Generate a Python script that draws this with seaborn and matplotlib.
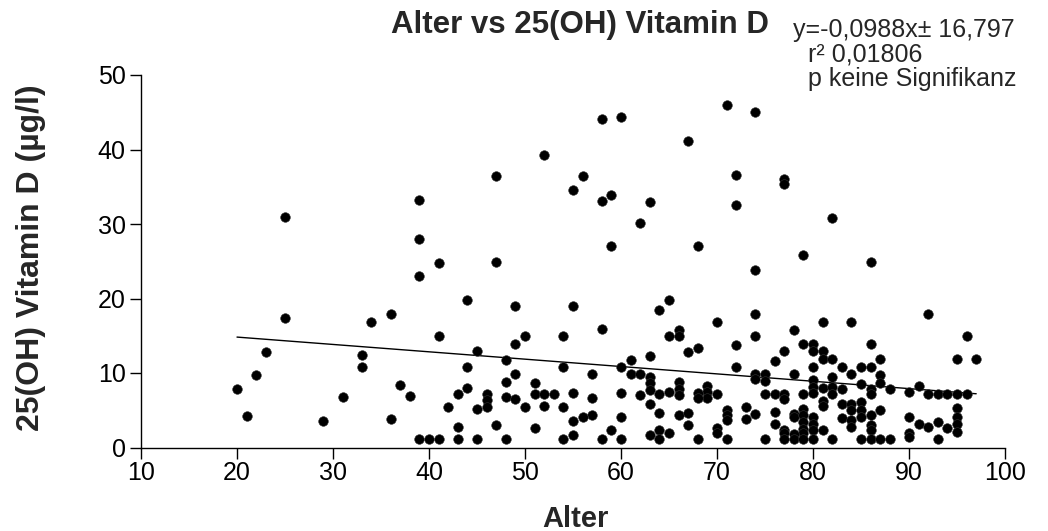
import matplotlib
matplotlib.use("Agg")
import matplotlib.pyplot as plt
import seaborn as sns
import pandas as pd
import numpy as np

# ---- data ----
age_upper = [25, 39, 39, 41, 39, 58, 60, 52, 47, 56, 55, 58, 59, 59, 47,
             71, 74, 67, 72, 63, 72, 62, 68, 74, 77, 77, 82, 79, 86]
vitd_upper = [31.0, 33.2, 28.0, 24.8, 23.0, 44.1, 44.4, 39.3, 36.4, 36.5, 34.6, 33.1, 33.9, 27.0, 24.9,
              46.0, 45.1, 41.2, 36.6, 32.9, 32.5, 30.1, 27.0, 23.8, 36.1, 35.4, 30.8, 25.9, 24.9]

age_young = [25, 23, 22, 20, 21, 29, 31, 33, 33,
             44, 36, 34, 41, 45, 44, 37, 38, 44, 43, 46, 46, 46, 42, 45, 36, 43,
             39, 40, 41, 43, 45, 47]
vitd_young = [17.4, 12.8, 9.7, 7.8, 4.2, 3.6, 6.8, 12.4, 10.8,
              19.8, 17.9, 16.9, 14.9, 12.9, 10.8, 8.4, 6.9, 8.0, 7.2, 7.2, 6.4, 5.5, 5.4, 5.2, 3.8, 2.8,
              1.2, 1.2, 1.2, 1.2, 1.2, 3.0]

age_mid = [49, 55, 58, 50, 54, 49, 48, 54, 57, 60, 49, 48, 51, 51, 52, 53, 55, 60, 48, 49, 57,
           50, 52, 54, 60, 57, 56, 55, 51, 59, 55, 48, 54, 58, 60]
vitd_mid = [19.0, 19.0, 15.9, 14.9, 14.9, 13.9, 11.8, 10.8, 9.9, 10.8, 9.9, 8.8, 8.6, 7.2, 7.2, 7.2, 7.3, 7.3, 6.8, 6.5, 6.7,
            5.4, 5.6, 5.4, 4.1, 4.3, 4.1, 3.5, 2.6, 2.4, 1.7, 1.2, 1.2, 1.2, 1.2]

age_60s = [65, 64, 70, 66, 66, 65, 68, 67, 72, 61, 63, 72, 74, 61, 62, 63, 63, 63, 66, 66, 66,
           69, 69, 69, 68, 68, 70, 65, 64, 62, 63, 64, 66, 67, 67, 71, 71, 71, 73, 73, 74,
           64, 65, 63, 70, 70, 64, 68, 71]
vitd_60s = [19.8, 18.4, 16.9, 15.8, 14.9, 14.9, 13.4, 12.8, 13.8, 11.8, 12.3, 10.8, 9.8, 9.9, 9.9, 9.5, 8.6, 7.7, 8.8, 7.9, 7.0,
            8.3, 7.5, 6.6, 7.3, 6.6, 7.2, 7.5, 7.2, 7.0, 5.9, 4.6, 4.4, 4.6, 3.0, 5.0, 4.4, 3.7, 5.4, 3.8, 4.5,
            2.4, 1.9, 1.7, 2.6, 1.9, 1.2, 1.2, 1.2]

age_old = [74, 74, 78, 81, 84, 79, 80, 86, 77, 80, 81, 81, 82, 76, 87, 80, 83, 85, 86, 75, 78, 84,
           82, 87, 87, 74, 75, 80, 80, 80, 81, 82, 82, 83, 85, 86, 86, 75, 76, 77, 77, 79, 81, 81,
           83, 84, 84, 85, 85, 85, 86, 87, 76, 78, 78, 79, 79, 79, 79, 79, 80, 80, 80, 76, 77, 77,
           78, 81, 83, 84, 84, 86, 86, 75, 77, 78, 79, 80, 82, 85, 86, 87]
vitd_old = [17.9, 14.9, 15.8, 16.9, 16.9, 13.9, 13.9, 13.9, 12.9, 12.9, 12.9, 11.9, 11.9, 11.6, 11.9, 10.8, 10.8, 10.8, 10.8, 9.9, 9.9, 9.9,
            9.5, 9.7, 8.6, 9.2, 8.9, 9.1, 8.1, 7.3, 8.0, 8.1, 7.2, 7.8, 8.5, 7.8, 7.2, 7.2, 7.2, 7.2, 6.5, 7.2, 6.3, 5.6,
            5.8, 5.8, 5.0, 6.1, 5.0, 4.1, 4.3, 5.1, 4.8, 4.5, 4.1, 5.2, 4.3, 3.4, 2.5, 1.9, 4.1, 3.2, 2.3, 3.2, 2.4, 1.9,
            1.8, 2.4, 3.9, 3.7, 2.8, 3.0, 2.3, 1.2, 1.2, 1.2, 1.2, 1.2, 1.2, 1.2, 1.2, 1.2]

age_90s = [92, 96, 95, 97, 88, 90, 91, 92, 93, 94, 95, 96, 95, 95, 95, 95, 90, 91, 92, 93, 94, 90, 90, 88, 93]
vitd_90s = [17.9, 14.9, 11.9, 11.9, 7.8, 7.5, 8.3, 7.2, 7.2, 7.2, 7.2, 7.2, 5.3, 4.1, 3.2, 2.1, 4.1, 3.2, 2.8, 3.4, 2.6, 1.9, 1.4, 1.2, 1.2]

slope = -0.0988
intercept = 16.797
line_x = [20, 97]

title = "Alter vs 25(OH) Vitamin D"
xlabel = "Alter"
ylabel = "25(OH) Vitamin D (µg/l)"
annot = ["y=-0,0988x± 16,797", "r² 0,01806", "p keine Signifikanz"]
xticks = [10, 20, 30, 40, 50, 60, 70, 80, 90, 100]
yticks = [0, 10, 20, 30, 40, 50]

ages = age_upper + age_young + age_mid + age_60s + age_old + age_90s
vitds = vitd_upper + vitd_young + vitd_mid + vitd_60s + vitd_old + vitd_90s
df = pd.DataFrame({"Alter": ages, "VitD": vitds})

sns.set_style("ticks")
plt.rcParams["font.family"] = ["Liberation Sans", "DejaVu Sans"]

W, H = 1048, 531
fig = plt.figure(figsize=(W / 100, H / 100), dpi=100)
ax = fig.add_axes([141 / W, (H - 447.5) / H, (1005 - 141) / W, (447.5 - 75) / H])

sns.scatterplot(data=df, x="Alter", y="VitD", ax=ax, color="black", s=48,
                edgecolor="#333333", linewidth=0.4, clip_on=False, zorder=3)

lx = np.array(line_x, dtype=float)
ax.plot(lx, slope * lx + intercept, color="black", lw=1.0, zorder=2)

ax.set_xlim(10, 100)
ax.set_ylim(0, 50)
ax.set_xticks(xticks)
ax.set_yticks(yticks)
ax.tick_params(axis="both", labelsize=18, length=8, width=1.0, color="black", labelcolor="black")
ax.tick_params(axis="x", pad=2)
ax.tick_params(axis="y", pad=3)
sns.despine(ax=ax)
for sp in ("left", "bottom"):
    ax.spines[sp].set_linewidth(1.0)
    ax.spines[sp].set_color("black")

ax.set_xlabel(xlabel, fontsize=21, fontweight="bold")
ax.set_ylabel(ylabel, fontsize=23, fontweight="bold")
ax.xaxis.set_label_coords((575 - 141) / 864, (447.5 - 505) / 372.5)
ax.yaxis.set_label_coords((46 - 141) / 864, (447.5 - 258) / 372.5)

fig.text(580 / W, 1 - 25 / H, title, ha="center", va="center", fontsize=22.5, fontweight="bold")
annot_x = [793, 808, 808]
annot_y = [30, 54.5, 79]
for t, xx, yy in zip(annot, annot_x, annot_y):
    fig.text(xx / W, 1 - yy / H, t, ha="left", va="center", fontsize=18)

fig.savefig("out.png", dpi=100)
